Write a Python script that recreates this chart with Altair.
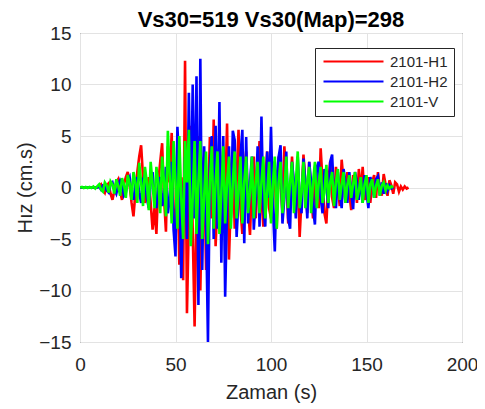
import altair as alt
import pandas as pd

SERIES = ["2101-H1", "2101-H2", "2101-V"]
COLORS = ["#ff0000", "#0000ff", "#00ff00"]
TITLE = "Vs30=519 Vs30(Map)=298"
X_TITLE = "Zaman (s)"
Y_TITLE = "Hız (cm.s)"
X_TICKS = [0, 50, 100, 150, 200]
Y_TICKS = [-15, -10, -5, 0, 5, 10, 15]
DT = 1.0  # sampling step of the read-off values (s)

# velocity, one value per second
h1 = [
    0, 0, 0, 0, 0, 0, 0, 0, 0, 0,
    0.1, 0.3, -0.2, -0.5, 0.2, 0.4, -0.6, -1.2, -0.3, 0.5,
    0.8, -0.4, -1.2, 0.3, 1.0, 1.5, 0.2, -1.5, -2.8, -0.5,
    1.5, 3.0, 4.1, 1.0, -1.5, -0.5, 1.0, -1.5, -4.1, -2.0,
    -4.5, 0.5, 2.5, 4.3, -1.0, -4.3, 4.0, 0.5, 5.3, -2.0,
    -5.5, 3.0, -7.5, 1.0, -9.0, 12.3, -12.2, -3.0, 6.0, -4.0,
    -13.5, -2.0, 5.0, -10.0, 0.0, 3.0, -8.0, -2.0, 4.9, -3.0,
    6.6, -5.7, -1.0, 3.5, -4.5, 3.9, -1.0, 6.2, -7.0, -1.0,
    3.0, -4.0, 0.5, 5.6, -2.0, -4.5, 1.5, 3.5, -2.0, -4.6,
    0.5, 3.0, -3.0, 1.0, 4.5, -1.0, -3.8, 1.0, 3.5, -2.0,
    -3.0, 2.5, 1.0, -4.0, 3.0, 0.5, -2.5, 4.0, 1.0, -3.5,
    -1.0, 3.0, -0.5, -2.5, 2.0, -4.8, -1.0, 3.2, 0.5, -2.5,
    2.5, -0.5, -3.0, 2.0, 0.5, -2.0, 3.8, 0.5, -2.5, -3.5,
    0.5, 2.5, -1.0, -2.0, 2.0, 0.0, -1.8, 2.7, 0.5, -1.5,
    1.5, -0.5, -2.2, 1.2, 0.5, -1.5, 1.8, -0.5, 2.0, -1.2,
    -0.5, 1.0, -1.5, 0.5, 1.2, -1.0, 1.5, -0.2, -0.8, 1.3,
    0.3, -0.8, 0.7, 0.2, -0.6, 0.5, 0.3, -0.4, 0.1, -0.2,
    0.1, -0.1, 0,
]
h2 = [
    0, 0, 0, 0, 0, 0, 0, 0, 0, 0,
    0.1, -0.2, 0.2, 0.1, -0.3, -0.5, 0.3, 0.5, -0.2, -0.6,
    0.2, 0.7, 0.3, -0.8, -0.5, 0.6, 1.0, -0.5, -1.2, 0.3,
    1.0, -0.5, -1.5, 0.8, 1.2, -1.0, -2.0, 0.5, 1.5, -1.0,
    -2.0, 0.5, 1.0, -1.8, -0.5, 2.0, -2.5, -1.0, 2.5, -4.1,
    -6.7, 5.9, 2.0, -8.8, -2.0, 3.0, -5.0, 9.2, -4.0, 10.0,
    -3.0, 10.8, -11.4, 12.5, -8.0, 4.0, -3.0, -15.0, 2.0, 5.0,
    -5.0, 6.0, -4.0, 8.3, -7.3, 5.0, -10.6, -2.0, 4.0, -3.0,
    5.5, 4.6, -4.8, -1.0, 3.0, 5.6, -5.4, 4.9, -3.5, 0.5,
    3.0, -4.1, -1.0, 4.0, -3.8, 6.9, -2.0, -3.8, 3.5, -1.0,
    5.9, -2.0, -6.2, 1.0, 3.0, 4.1, -3.5, -1.0, 3.5, -3.0,
    -4.0, 2.5, 0.5, -3.0, 3.0, -1.0, -2.5, 2.8, 0.5, -3.0,
    2.5, 0.5, -2.0, -3.6, 2.0, 2.5, -1.0, -2.5, 1.8, 0.5,
    -2.0, 2.5, 3.2, -1.0, -2.0, 1.5, -0.5, -2.0, 1.8, 0.5,
    -1.5, 1.5, -0.5, -2.1, 1.5, 0.5, -1.2, 1.0, -1.5, 1.2,
    -0.5, -2.0, 1.0, 0.3, -1.0, 0.8, 1.1, -0.8, 0.5, -0.6,
    0.4, -0.3, 0.2, -0.1, 0,
]
vz = [
    0, 0.05, -0.05, 0.05, -0.05, 0.05, -0.05, 0.1, -0.1, 0.1,
    0.3, -0.2, -0.4, 0.5, 0.2, -0.5, 0.6, 0.3, -0.6, 0.8,
    0.2, -0.8, 0.9, 0.3, -1.0, 1.2, 0.4, -1.2, 1.5, 0.5,
    -1.5, 2.4, 0.5, -1.8, 2.0, 0.5, -2.2, 2.5, 0.3, -2.0,
    2.0, 0.5, -2.5, 3.0, 0.5, -2.8, 5.5, 1.0, -3.5, 4.5,
    0.5, -4.0, 5.0, -1.0, -5.0, 4.5, 0.5, 5.6, -5.7, -1.0,
    4.5, -4.5, 0.5, 4.5, -5.0, -1.0, 3.5, -5.5, 0.5, 4.0,
    -4.0, 0.5, 3.5, -4.5, -0.5, 4.0, -3.5, 0.5, 3.0, -4.0,
    0.5, 3.5, -3.0, -0.5, 3.0, -3.5, 0.5, 3.0, -2.5, -0.5,
    3.0, -3.0, 0.5, 2.5, -2.5, 0.5, 3.0, -3.0, -0.5, 2.5,
    -3.5, 0.5, 3.0, -4.0, 0.5, 2.5, -2.5, -0.5, 3.0, -2.0,
    0.5, 2.5, -2.5, 0.5, 3.5, -2.0, -0.5, 2.5, -2.0, 0.5,
    2.0, -2.5, 0.5, 2.5, -2.0, 0.5, 2.0, -1.5, -0.5, 2.2,
    -1.5, 0.5, 1.5, -1.8, 0.5, 1.8, -1.2, 0.3, 1.5, -1.5,
    0.3, 1.2, -1.0, 0.3, 1.5, -1.2, -0.3, 1.0, -1.5, 0.3,
    1.2, -1.5, 0.3, 0.8, -1.0, 0.2, 0.8, -0.8, 0.2, 0.5,
    -0.3, 0.2, -0.1, 0.1, 0,
]

rows = []
for name, vals in zip(SERIES, [h1, h2, vz]):
    for i, val in enumerate(vals):
        rows.append({"t": i * DT, "v": val, "series": name})
df = pd.DataFrame(rows)

FONT = "Liberation Sans"
TXT = "#262626"

color = alt.Color(
    "series:N",
    scale=alt.Scale(domain=SERIES, range=COLORS),
    legend=alt.Legend(
        title=None,
        orient="none",
        legendX=235,
        legendY=15,
        symbolType="M-6,0H6",
        symbolSize=100,
        symbolStrokeWidth=2,
        symbolOffset=25,
        labelOffset=29,
        labelFontSize=15,
        labelFont=FONT,
        labelColor=TXT,
        padding=6,
        rowPadding=4,
        strokeColor=TXT,
        fillColor="white",
        labelExpr="datum.label + '\u00a0\u00a0\u00a0\u00a0'",
    ),
)
x = alt.X(
    "t:Q",
    scale=alt.Scale(domain=[0, 200], nice=False),
    axis=alt.Axis(
        values=X_TICKS, title=X_TITLE, ticks=False, domain=False,
        labelPadding=28, labelBaseline="alphabetic", labelFlush=False,
        titleX=191, titleY=56, titleBaseline="alphabetic", titleAnchor="middle",
    ),
)
y = alt.Y(
    "v:Q",
    scale=alt.Scale(domain=[-15, 15], nice=False),
    axis=alt.Axis(
        values=Y_TICKS, title=Y_TITLE, ticks=False, domain=False,
        labelPadding=9, labelFlush=False,
        titleX=-49, titleY=154.5, titleAngle=270, titleBaseline="alphabetic",
        titleAlign="center",
    ),
)

layers = [
    alt.Chart(df)
    .transform_filter(alt.datum.series == s)
    .mark_line(strokeWidth=2.6, clip=True)
    .encode(x=x, y=y, color=color, order="t:Q")
    for s in SERIES
]

chart = (
    alt.layer(*layers)
    .properties(
        width=382,
        height=309,
        title=alt.Title(TITLE, fontSize=22, fontWeight="bold", font=FONT,
                        color="black", anchor="middle", offset=-8),
        autosize=alt.AutoSizeParams(type="none"),
        padding={"left": 72, "top": 25, "right": 15, "bottom": 64},
    )
    .configure(background="white")
    .configure_view(stroke=TXT, strokeWidth=1)
    .configure_axis(
        labelFont=FONT, labelFontSize=19, labelColor=TXT,
        titleFont=FONT, titleFontSize=20, titleColor=TXT, titleFontWeight="normal",
        gridColor="#e3e3e3", gridWidth=1,
    )
)

chart.save("out.html", embed_options={"renderer": "svg", "actions": False})
